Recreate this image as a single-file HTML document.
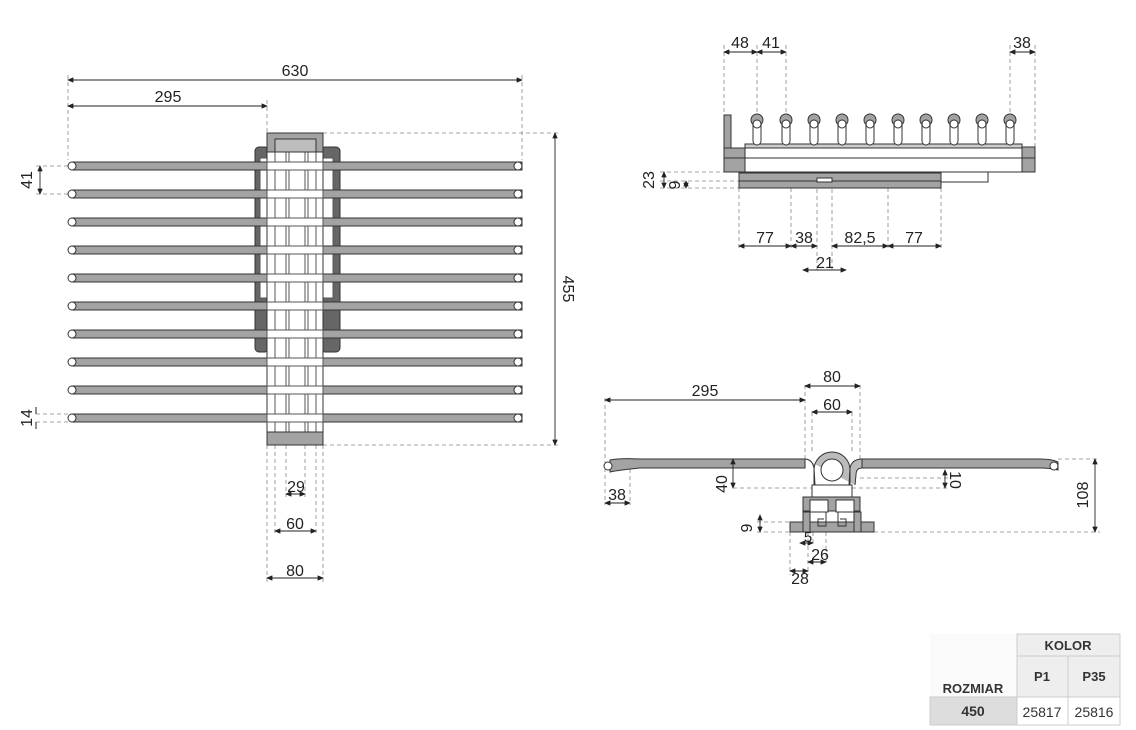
<!DOCTYPE html>
<html><head><meta charset="utf-8"><style>
html,body{margin:0;padding:0;background:#fff}
svg{display:block;font-family:"Liberation Sans",sans-serif}
</style></head><body>
<svg width="1136" height="730" viewBox="0 0 1136 730" xmlns="http://www.w3.org/2000/svg">
<defs>
<marker id="a" markerWidth="7" markerHeight="6" refX="6" refY="3" orient="auto-start-reverse"><path d="M0,0 L7,3 L0,6 z" fill="#222"/></marker>
</defs>
<g stroke="#888" stroke-dasharray="4,3" stroke-width="0.8" fill="none">
<line x1="68" y1="75" x2="68" y2="160"/><line x1="522" y1="75" x2="522" y2="160"/>
<line x1="267" y1="100" x2="267" y2="133"/>
<line x1="323" y1="133" x2="560" y2="133"/><line x1="323" y1="445" x2="560" y2="445"/>
<line x1="36" y1="166" x2="68" y2="166"/><line x1="36" y1="194" x2="68" y2="194"/>
<line x1="36" y1="414" x2="68" y2="414"/><line x1="36" y1="422" x2="68" y2="422"/>
<line x1="267" y1="445" x2="267" y2="582"/><line x1="323" y1="445" x2="323" y2="582"/>
<line x1="275" y1="445" x2="275" y2="535"/><line x1="316" y1="445" x2="316" y2="535"/>
<line x1="286" y1="445" x2="286" y2="497"/><line x1="305" y1="445" x2="305" y2="497"/>
<line x1="724" y1="45" x2="724" y2="115"/><line x1="757" y1="45" x2="757" y2="115"/><line x1="786" y1="45" x2="786" y2="115"/>
<line x1="1010" y1="45" x2="1010" y2="115"/><line x1="1035" y1="45" x2="1035" y2="147"/>
<line x1="660" y1="172" x2="739" y2="172"/><line x1="660" y1="181" x2="739" y2="181"/><line x1="660" y1="188" x2="739" y2="188"/>
<line x1="739" y1="188" x2="739" y2="248"/><line x1="791" y1="188" x2="791" y2="248"/><line x1="817" y1="182" x2="817" y2="272"/>
<line x1="832" y1="182" x2="832" y2="272"/><line x1="888" y1="188" x2="888" y2="248"/><line x1="941" y1="188" x2="941" y2="248"/>
<line x1="605" y1="398" x2="605" y2="505"/><line x1="805" y1="385" x2="805" y2="460"/><line x1="860" y1="385" x2="860" y2="460"/>
<line x1="812" y1="412" x2="812" y2="452"/><line x1="852" y1="412" x2="852" y2="452"/>
<line x1="630" y1="462" x2="630" y2="505"/><line x1="733" y1="488" x2="950" y2="488"/><line x1="860" y1="478" x2="950" y2="478"/>
<line x1="1058" y1="459" x2="1100" y2="459"/><line x1="874" y1="532" x2="1100" y2="532"/>
<line x1="757" y1="522" x2="790" y2="522"/><line x1="757" y1="532" x2="790" y2="532"/>
<line x1="790" y1="532" x2="790" y2="575"/><line x1="808" y1="532" x2="808" y2="575"/><line x1="826" y1="532" x2="826" y2="562"/><line x1="813" y1="532" x2="813" y2="545"/>
</g>
<g fill="#a3a3a3" stroke="#333" stroke-width="1">
<rect x="255" y="147" width="14" height="205" rx="4" fill="#666"/><rect x="321" y="147" width="19" height="205" rx="4" fill="#666"/>
<rect x="260" y="158" width="8" height="140" fill="#fff" stroke="#555"/><rect x="323" y="158" width="10" height="140" fill="#fff" stroke="#555"/>
</g>
<g fill="#a3a3a3" stroke="#333" stroke-width="1">
<g id="r"><rect x="72" y="162" width="450" height="8"/><circle cx="72" cy="166" r="4" fill="#fff"/><circle cx="518" cy="166" r="4" fill="#fff"/></g>
<use href="#r" y="28"/><use href="#r" y="56"/><use href="#r" y="84"/><use href="#r" y="112"/><use href="#r" y="140"/><use href="#r" y="168"/><use href="#r" y="196"/><use href="#r" y="224"/><use href="#r" y="252"/>
</g>
<g stroke="#333" stroke-width="1">
<rect x="267" y="150" width="56" height="282" fill="#fff"/>
<g stroke="#555"><line x1="275" y1="150" x2="275" y2="432"/><line x1="286" y1="150" x2="286" y2="432"/><line x1="289" y1="150" x2="289" y2="432"/><line x1="305" y1="150" x2="305" y2="432"/><line x1="308" y1="150" x2="308" y2="432"/><line x1="316" y1="150" x2="316" y2="432"/></g>
<g fill="#fff" stroke="#555"><rect x="267" y="162" width="56" height="8"/><rect x="267" y="190" width="56" height="8"/><rect x="267" y="218" width="56" height="8"/><rect x="267" y="246" width="56" height="8"/><rect x="267" y="274" width="56" height="8"/><rect x="267" y="302" width="56" height="8"/><rect x="267" y="330" width="56" height="8"/><rect x="267" y="358" width="56" height="8"/><rect x="267" y="386" width="56" height="8"/><rect x="267" y="414" width="56" height="8"/></g>
<rect x="267" y="133" width="56" height="19" fill="#a3a3a3"/><rect x="275" y="139" width="41" height="13" fill="#bdbdbd"/>
<rect x="267" y="432" width="56" height="13" fill="#a3a3a3"/>
</g>
<g stroke="#333" stroke-width="1" fill="#a3a3a3">
<rect x="724" y="115" width="7" height="34"/>
<rect x="724" y="148" width="21" height="24"/><line x1="724" y1="158" x2="745" y2="158"/>
<rect x="1022" y="147" width="13" height="25"/><line x1="1022" y1="158" x2="1035" y2="158"/>
<rect x="745" y="144" width="277" height="28" fill="#fff"/><line x1="745" y1="158" x2="1022" y2="158"/><rect x="745" y="144" width="277" height="4" fill="#ccc"/>
<rect x="941" y="172" width="47" height="10" fill="#fff"/>
<rect x="739" y="173" width="202" height="15"/><line x1="739" y1="181" x2="941" y2="181"/><rect x="817" y="178" width="15" height="4" fill="#fff"/>
<g id="p"><rect x="753" y="120" width="8" height="25" rx="4" fill="#fff"/><circle cx="757" cy="120" r="6"/><circle cx="757" cy="124" r="4" fill="#fff"/></g>
<use href="#p" x="29"/><use href="#p" x="57"/><use href="#p" x="85"/><use href="#p" x="113"/><use href="#p" x="141"/><use href="#p" x="169"/><use href="#p" x="197"/><use href="#p" x="225"/><use href="#p" x="253"/>
</g>
<g stroke="#333" stroke-width="1" fill="#a3a3a3">
<path d="M610,460 Q620,458 640,459 L805,459 L805,468 L640,468 Q620,470 610,472 z"/>
<circle cx="608" cy="466" r="4" fill="#fff"/>
<path d="M862,459 L1040,459 Q1052,459 1058,462 L1058,470 Q1050,468 1040,468 L862,468 z"/>
<circle cx="1054" cy="466" r="4" fill="#fff"/>
<path d="M805,459 Q812,459 814,468 L815,485 L849,485 L850,468 Q852,459 862,459 L862,468 Q856,468 856,475 L855,485 M832,452 a18,18 0 0 1 18,18 L850,485 L814,485 L814,470 a18,18 0 0 1 18,-18 z" fill="#bbb"/>
<circle cx="832" cy="470" r="11" fill="#fff"/>
<rect x="812" y="485" width="40" height="12" fill="#fff"/>
<rect x="803" y="497" width="57" height="14"/>
<rect x="810" y="500" width="18" height="12" fill="#fff"/><rect x="836" y="500" width="18" height="12" fill="#fff"/>
<rect x="790" y="522" width="84" height="10"/>
<rect x="803" y="512" width="7" height="20"/><rect x="854" y="512" width="7" height="20"/>
<path d="M812,512 h14 v14 h-8 v-7 h6 M852,512 h-14 v14 h8 v-7 h-6" fill="none"/>
</g>
<g stroke="#222" stroke-width="0.9" fill="none" marker-start="url(#a)" marker-end="url(#a)">
<line x1="68" y1="80" x2="522" y2="80"/><line x1="68" y1="106" x2="267" y2="106"/>
<line x1="555" y1="133" x2="555" y2="445"/>
<line x1="40" y1="166" x2="40" y2="194"/>
<line x1="286" y1="494" x2="305" y2="494"/><line x1="275" y1="531" x2="316" y2="531"/><line x1="267" y1="578" x2="323" y2="578"/>
<line x1="724" y1="52" x2="757" y2="52"/><line x1="757" y1="52" x2="786" y2="52"/><line x1="1010" y1="52" x2="1035" y2="52"/>
<line x1="664" y1="172" x2="664" y2="188"/><line x1="686" y1="181" x2="686" y2="188"/>
<line x1="739" y1="246" x2="791" y2="246"/><line x1="791" y1="246" x2="817" y2="246"/><line x1="832" y1="246" x2="888" y2="246"/><line x1="888" y1="246" x2="941" y2="246"/>
<line x1="803" y1="270" x2="846" y2="270"/>
<line x1="605" y1="400" x2="805" y2="400"/><line x1="805" y1="386" x2="860" y2="386"/><line x1="812" y1="412" x2="852" y2="412"/>
<line x1="733" y1="459" x2="733" y2="488"/><line x1="945" y1="470" x2="945" y2="488"/>
<line x1="1095" y1="459" x2="1095" y2="532"/>
<line x1="605" y1="503" x2="630" y2="503"/>
<line x1="760" y1="515" x2="760" y2="532"/>
<line x1="800" y1="543" x2="813" y2="543"/><line x1="808" y1="562" x2="826" y2="562"/><line x1="790" y1="571" x2="808" y2="571"/>
</g>
<g font-size="16" fill="#222" text-anchor="middle">
<text x="295" y="76">630</text><text x="168" y="102">295</text>
<text x="296" y="492">29</text><text x="295" y="529">60</text><text x="295" y="576">80</text>
<text x="740" y="48">48</text><text x="771" y="48">41</text><text x="1022" y="48">38</text>
<text x="765" y="243">77</text><text x="804" y="243">38</text><text x="860" y="243">82,5</text><text x="914" y="243">77</text><text x="825" y="268">21</text>
<text x="705" y="396">295</text><text x="832" y="382">80</text><text x="832" y="410">60</text>
<text x="617" y="500">38</text><text x="808" y="542" font-size="15">5</text><text x="820" y="560">26</text><text x="800" y="584">28</text>
<text transform="translate(563,289) rotate(90)">455</text>
<text transform="translate(32,180) rotate(-90)">41</text>
<text transform="translate(32,418) rotate(-90)">14</text>
<text transform="translate(654,180) rotate(-90)">23</text>
<text transform="translate(680,185) rotate(-90)">9</text>
<text transform="translate(727,484) rotate(-90)">40</text>
<text transform="translate(950,480) rotate(90)">10</text>
<text transform="translate(1088,495) rotate(-90)">108</text>
<text transform="translate(752,528) rotate(-90)">9</text>
<line x1="36" y1="407" x2="36" y2="414" stroke="#222"/><line x1="36" y1="422" x2="36" y2="429" stroke="#222"/>
</g>
<g font-size="13">
<rect x="930" y="634" width="87" height="63" fill="#fafafa"/>
<rect x="1017" y="634" width="103" height="22" fill="#eee" stroke="#ccc"/>
<rect x="1017" y="656" width="51" height="41" fill="#eee" stroke="#ccc"/>
<rect x="1068" y="656" width="52" height="41" fill="#eee" stroke="#ccc"/>
<rect x="930" y="697" width="87" height="28" fill="#ddd" stroke="#ccc"/>
<rect x="1017" y="697" width="51" height="28" fill="#fff" stroke="#ccc"/>
<rect x="1068" y="697" width="52" height="28" fill="#fff" stroke="#ccc"/>
<g text-anchor="middle" fill="#333" font-weight="bold">
<text x="1068" y="650">KOLOR</text><text x="1042" y="681">P1</text><text x="1094" y="681">P35</text>
<text x="973" y="693">ROZMIAR</text><text x="973" y="716" font-size="14">450</text>
</g>
<g text-anchor="middle" fill="#333" font-size="14"><text x="1042" y="717">25817</text><text x="1094" y="717">25816</text></g>
</g>
</svg>
</body></html>
